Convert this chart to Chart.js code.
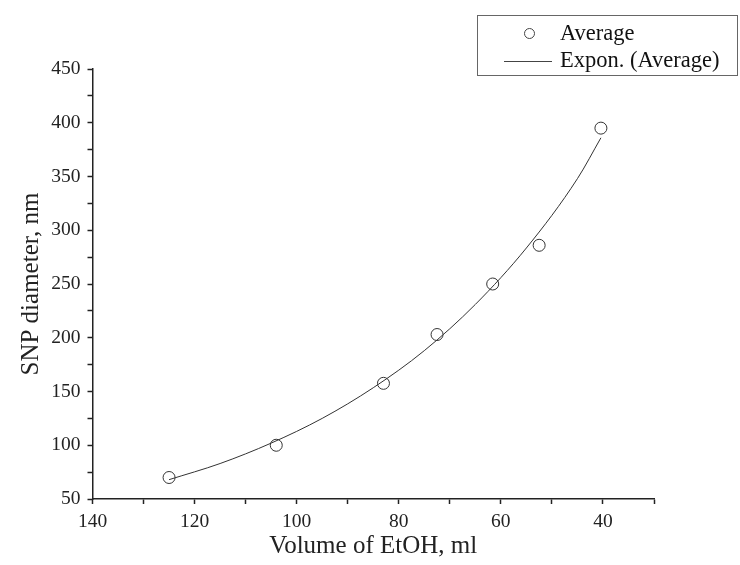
<!DOCTYPE html>
<html>
<head>
<meta charset="utf-8">
<script src="https://cdn.jsdelivr.net/npm/chart.js@4"></script>
<style>
  body { margin: 0; background: #fff; }
  #wrap { position: relative; width: 740px; height: 565px; }
  #legend {
    position: absolute; left: 477px; top: 15px; width: 261px; height: 61px;
    border: 1px solid #666; box-sizing: border-box;
    font-family: "Liberation Serif", serif; font-size: 22.5px; color: #111;
  }
  #legend .row { position: absolute; left: 82px; white-space: nowrap; }
  #legend .dot {
    position: absolute; left: 46px; top: 12px; width: 9px; height: 9px;
    border: 1px solid #444; border-radius: 50%;
  }
  #legend .ln { position: absolute; left: 26px; top: 45px; width: 48px; border-top: 1px solid #444; }
</style>
</head>
<body>
<div id="wrap">
  <canvas id="myChart" width="740" height="565"></canvas>
  <div id="legend">
    <span class="dot"></span><span class="row" style="top:4px">Average</span>
    <span class="ln"></span><span class="row" style="top:31px">Expon. (Average)</span>
  </div>
</div>
<script>
const ctx = document.getElementById('myChart');

// measured points
const volume = [125, 104, 83, 72.5, 61.6, 52.5, 40.4];
const diameter = [70, 100, 157.6, 203, 250, 286, 395];

// trendline
const trendX = [125, 115, 105, 95, 85, 75, 65, 55, 45, 40.4];
const trendY = [68, 83, 102, 125, 153.5, 188, 231, 283.5, 348, 386];

const xTicks = [140, 120, 100, 80, 60, 40];
const yTicks = [50, 100, 150, 200, 250, 300, 350, 400, 450];

const serif = '"Liberation Serif", "Times New Roman", serif';

new Chart(ctx, {
    type: 'scatter',
    data: {
        datasets: [{
            label: 'Average',
            data: volume.map((v, i) => ({x: v, y: diameter[i]})),
            pointRadius: 6,
            pointBorderWidth: 1,
            pointBorderColor: '#333',
            pointBackgroundColor: 'rgba(255,255,255,0)',
            showLine: false,
        }, {
            label: 'Expon. (Average)',
            data: trendX.map((v, i) => ({x: v, y: trendY[i]})),
            showLine: true,
            pointRadius: 0,
            borderColor: '#333',
            borderWidth: 1,
            cubicInterpolationMode: 'monotone',
        }]
    },
    options: {
        responsive: false,
        animation: false,
        layout: { padding: { top: 69, right: 86, left: 12, bottom: 0 } },
        plugins: { legend: { display: false }, tooltip: { enabled: false } },
        scales: {
            x: {
                type: 'linear',
                reverse: true,
                min: 30, max: 140,
                afterFit: s => { s.height = 66; },
                border: { color: '#222', width: 1.5 },
                grid: { drawOnChartArea: false, tickLength: 5, color: '#222', tickWidth: 1.5 },
                ticks: {
                    stepSize: 10,
                    color: '#222',
                    font: { family: serif, size: 19.5 },
                    padding: 6,
                    maxRotation: 0,
                    callback: v => xTicks.includes(v) ? v : '',
                },
                title: {
                    display: true,
                    text: 'Volume of EtOH, ml',
                    color: '#222',
                    font: { family: serif, size: 25 },
                    padding: { top: 8 },
                },
            },
            y: {
                min: 50, max: 450,
                afterFit: s => { s.width = 80.5; },
                border: { color: '#222', width: 1.5 },
                grid: { drawOnChartArea: false, tickLength: 5, color: '#222', tickWidth: 1.5 },
                ticks: {
                    stepSize: 25,
                    color: '#222',
                    font: { family: serif, size: 19.5 },
                    padding: 7,
                    callback: v => yTicks.includes(v) ? v : '',
                },
                title: {
                    display: true,
                    text: 'SNP diameter, nm',
                    color: '#222',
                    font: { family: serif, size: 25 },
                    padding: { bottom: 4 },
                },
            },
        },
    }
});
</script>
</body>
</html>
